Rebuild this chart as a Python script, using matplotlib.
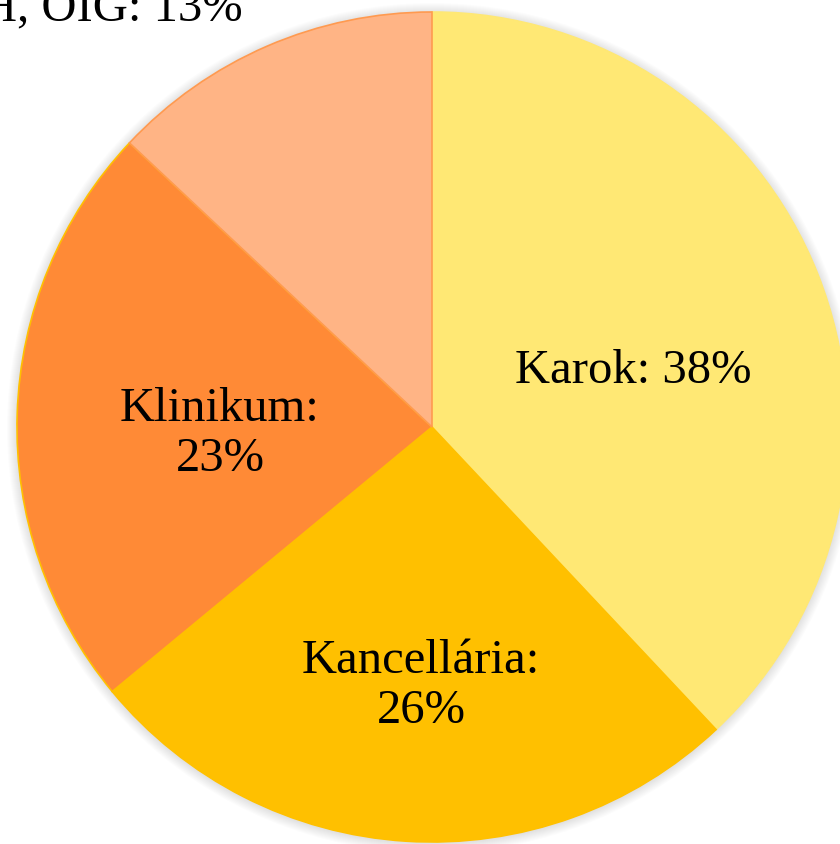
import matplotlib
matplotlib.use("Agg")
import matplotlib.pyplot as plt
from matplotlib.patches import Circle
import numpy as np

labels = ["Karok: 38%", "Kancellária:\n26%", "Klinikum:\n23%", "H, OIG: 13%"]
values = [38, 26, 23, 13]
colors = ["#FFE874", "#FFC000", "#FF8A36", "#FFB485"]
edges = ["#FFE874", "#FFC000", "#FFC000", "#FF9A50"]

W, H = 840, 845
fig = plt.figure(figsize=(W / 100, H / 100), dpi=100)
ax = fig.add_axes([0, 0, 1, 1])
ax.set_xlim(0, W)
ax.set_ylim(0, H)
ax.set_aspect("equal")
ax.axis("off")

cx, cy, R = 432, 845 - 428, 415

# soft shadow
for i in range(10):
    ax.add_patch(Circle((cx, cy - 1), R + 1 + i * 1.0, color="#000000",
                        alpha=0.012, lw=0, zorder=0))

wedges, _ = ax.pie(values, colors=colors, startangle=90, counterclock=False,
                   center=(cx, cy), radius=R, frame=True,
                   wedgeprops=dict(linewidth=1.2))
for w, e in zip(wedges, edges):
    w.set_edgecolor(e)
    w.set_zorder(2)
ax.set_xlim(0, W)
ax.set_ylim(0, H)
ax.axis("off")

font = dict(family=["Liberation Serif", "DejaVu Serif"], fontsize=35, color="black")
pos = [(633, 845 - 371), (421, 845 - 686), (220, 845 - 434), (112, 845 - 8)]
for (x, y), t in zip(pos, labels):
    ax.text(x, y, t, ha="center", va="center", linespacing=1.15, zorder=5, **font)

fig.savefig("out.png", dpi=100)
